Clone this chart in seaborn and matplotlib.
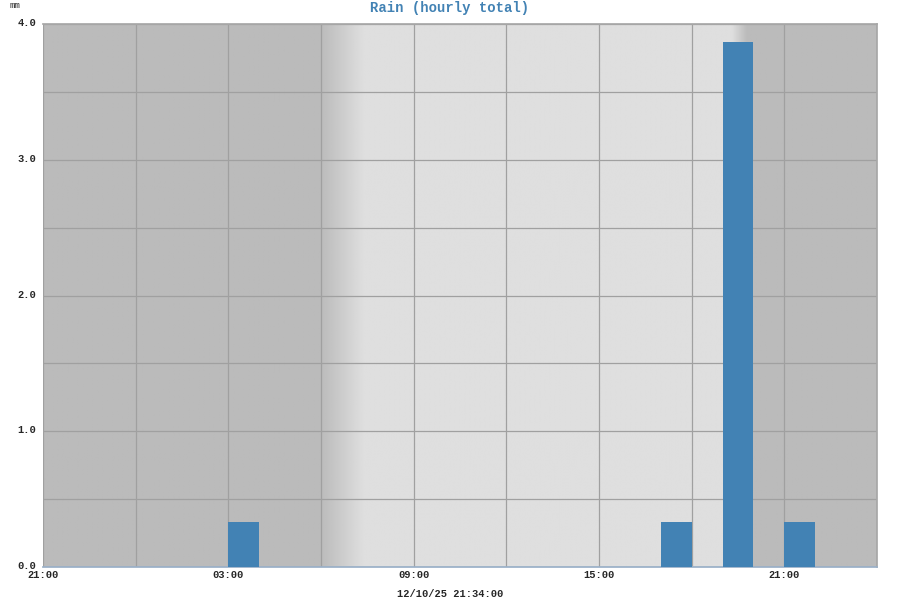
import numpy as np
import pandas as pd
import matplotlib
matplotlib.use("Agg")
import matplotlib.pyplot as plt
import matplotlib.transforms as mtransforms
import seaborn as sns

# hourly rain totals (bar start time, mm)
bar_start = ["03:00", "17:00", "19:00", "21:00"]
rain_mm = [0.33, 0.33, 3.87, 0.33]
x_tick_labels = ["21:00", "03:00", "09:00", "15:00", "21:00"]
y_tick_labels = ["0.0", "1.0", "2.0", "3.0", "4.0"]
title = "Rain (hourly total)"
unit = "mm"
stamp = "12/10/25 21:34:00"

# hours counted from 21:00 of the previous day
offsets = []
for t in bar_start:
    h, m = map(int, t.split(":"))
    off = (h + m / 60 - 21) % 24
    if h >= 21 and len(offsets) > 0:
        off += 24
    offsets.append(off)

df = pd.DataFrame({"mid": [o + 0.5 for o in offsets], "rain": rain_mm})

sns.set_theme(style="white")
mono = ["Liberation Mono", "DejaVu Sans Mono"]
blue = "#4282b4"

fig = plt.figure(figsize=(9, 6), dpi=100)
ax = fig.add_axes([43 / 900, 1 - 567 / 600, (877 - 43) / 900, (567 - 24) / 600])

# day / night background
xs = np.linspace(0, 27, 1000)
shade = np.interp(xs, [0, 9, 10.4, 22.3, 22.8, 27],
                  [0xbb, 0xbb, 0xdf, 0xdf, 0xbb, 0xbb]) / 255
ax.imshow(np.tile(shade, (2, 1)), cmap="gray", vmin=0, vmax=1,
          extent=[0, 27, 0, 4], aspect="auto", zorder=0, interpolation="bilinear")

sns.histplot(data=df, x="mid", weights="rain", binwidth=1, binrange=(0, 27),
             color=blue, alpha=1, edgecolor=blue, linewidth=0, ax=ax, zorder=3)

ax.set_xlim(0, 27)
ax.set_ylim(0, 4)
ax.set_xticks([0, 6, 12, 18, 24])
ax.set_xticks(np.arange(0, 28, 3), minor=True)
ax.set_xticklabels(x_tick_labels, fontfamily=mono, fontweight="bold", fontsize=7.5)
ax.set_yticks([0, 1, 2, 3, 4])
ax.set_yticks(np.arange(0, 4.01, 0.5), minor=True)
ax.set_yticklabels(y_tick_labels, fontfamily=mono, fontweight="bold", fontsize=7.5)
ax.grid(True, which="both", color="#a0a0a0", linewidth=0.9)
for line in ax.get_xgridlines() + ax.get_ygridlines():
    line.set_zorder(1)
ax.tick_params(axis="both", which="both", length=0, pad=2)
ax.tick_params(axis="y", pad=5)
# lift the y labels a little, as in the reference
lift = mtransforms.ScaledTranslation(0, 2 / 100, fig.dpi_scale_trans)
for lab in ax.get_yticklabels():
    lab.set_transform(lab.get_transform() + lift)
ax.set_xlabel("")
ax.set_ylabel("")
for side in ["top", "right"]:
    ax.spines[side].set_color("#a8a8a8")
ax.spines["bottom"].set_color("#9ab0c8")
ax.spines["left"].set_visible(False)

fig.text(450 / 900, 1 - 8 / 600, title, ha="center", va="center", color=blue,
         fontfamily=mono, fontweight="bold", fontsize=10)
fig.text(10 / 900, 1 - 6 / 600, unit, ha="left", va="center",
         fontfamily=mono, fontsize=6.5)
fig.text(450 / 900, 1 - 594 / 600, stamp, ha="center", va="center",
         fontfamily=mono, fontweight="bold", fontsize=7.5)

fig.savefig("out.png", dpi=100)
